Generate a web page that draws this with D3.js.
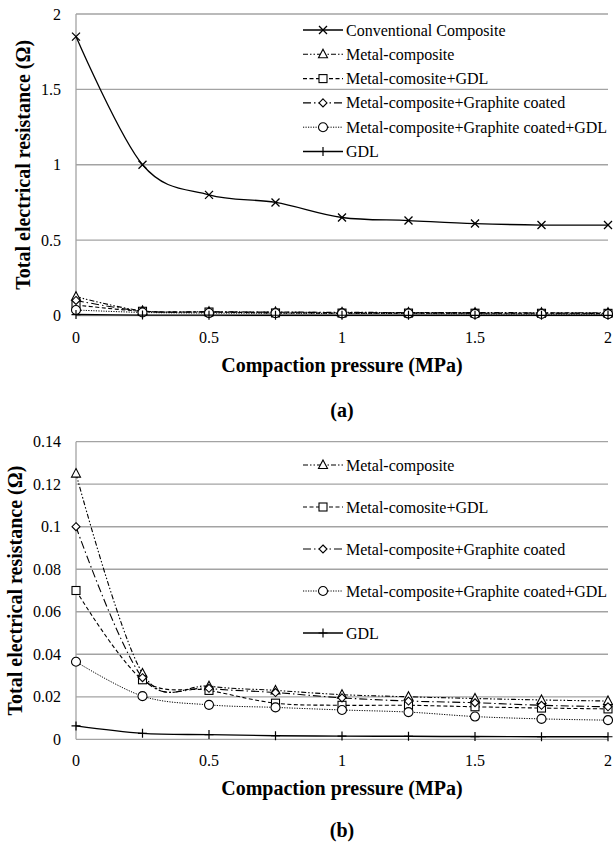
<!DOCTYPE html>
<html lang="en">
<head>
  <meta charset="UTF-8">
  <title>Total electrical resistance vs compaction pressure</title>
  <style>
    body { margin: 0; padding: 0; background: #fff; }
    svg { display: block; }
    text { font-family: 'Liberation Serif', 'Times New Roman', serif; fill: #000; }
    .grid line { stroke: #a3a3a3; stroke-width: 1.3px; }
    .tick-label { font-size: 16px; }
    .axis-title { font-size: 20px; font-weight: bold; }
    .legend text { font-size: 16px; }
    .series { fill: none; stroke: #000; }
  </style>
</head>
<body>
  <svg width="613" height="844"></svg>

  <script src="https://d3js.org/d3.v7.min.js"></script>
  <script>
    // pressure (MPa)
    const pressure = [0, 0.25, 0.5, 0.75, 1, 1.25, 1.5, 1.75, 2];

    // resistance values (ohm) for each series
    const conventional   = [1.85, 1.0, 0.8, 0.75, 0.65, 0.63, 0.61, 0.6, 0.6];
    const metalComposite = [0.125, 0.031, 0.025, 0.023, 0.021, 0.020, 0.0192, 0.0185, 0.018];
    const metalGdl       = [0.07, 0.028, 0.023, 0.017, 0.016, 0.016, 0.0153, 0.0147, 0.0143];
    const coated         = [0.1, 0.029, 0.024, 0.022, 0.0195, 0.018, 0.0172, 0.016, 0.0153];
    const coatedGdl      = [0.0365, 0.0203, 0.0162, 0.015, 0.0138, 0.0128, 0.0107, 0.0096, 0.009];
    const gdl            = [0.0063, 0.0028, 0.0022, 0.0017, 0.0015, 0.0014, 0.0013, 0.0012, 0.0012];

    const xTicks = [0, 0.5, 1, 1.5, 2];
    const yTicksA = [0, 0.5, 1, 1.5, 2];
    const yTicksB = [0, 0.02, 0.04, 0.06, 0.08, 0.1, 0.12, 0.14];

    const seriesNames = [
      "Conventional Composite",
      "Metal-composite",
      "Metal-comosite+GDL",
      "Metal-composite+Graphite coated",
      "Metal-composite+Graphite coated+GDL",
      "GDL"
    ];

    // line / marker style per series
    const styles = {
      "Conventional Composite":              { values: conventional,   dash: null,              width: 1.3, marker: "cross" },
      "Metal-composite":                     { values: metalComposite, dash: "5,2,1.5,2,1.5,2", width: 1.1, marker: "triangle" },
      "Metal-comosite+GDL":                  { values: metalGdl,       dash: "4,2.5",           width: 1.1, marker: "square" },
      "Metal-composite+Graphite coated":     { values: coated,         dash: "8,3,1.5,3",       width: 1.1, marker: "diamond" },
      "Metal-composite+Graphite coated+GDL": { values: coatedGdl,      dash: "1.2,1.3",         width: 1.0, marker: "circle" },
      "GDL":                                 { values: gdl,            dash: null,              width: 1.4, marker: "plus" }
    };

    const svg = d3.select("svg");

    function drawMarker(g, type, x, y) {
      const m = g.append("g").attr("transform", `translate(${x},${y})`);
      const common = s => s.attr("fill", "#fff").attr("stroke", "#000").attr("stroke-width", 1.1);
      if (type === "cross") {
        m.append("path").attr("d", "M-4,-4L4,4M-4,4L4,-4").attr("stroke", "#000").attr("stroke-width", 1.3);
      } else if (type === "plus") {
        m.append("path").attr("d", "M-4.5,0L4.5,0M0,-4.5L0,4.5").attr("stroke", "#000").attr("stroke-width", 1.2);
      } else if (type === "triangle") {
        common(m.append("path").attr("d", "M0,-5L4.5,3.5L-4.5,3.5Z"));
      } else if (type === "square") {
        common(m.append("rect").attr("x", -4).attr("y", -4).attr("width", 8).attr("height", 8));
      } else if (type === "diamond") {
        common(m.append("path").attr("d", "M0,-4L4,0L0,4L-4,0Z"));
      } else if (type === "circle") {
        common(m.append("circle").attr("r", 4.5));
      }
    }

    function drawPanel(opt) {
      const x = d3.scaleLinear().domain([0, 2]).range([76, 608]);
      const y = d3.scaleLinear().domain([0, opt.yMax]).range([opt.bottom, opt.top]);
      const g = svg.append("g");

      // gridlines (y=0 doubles as the x axis)
      g.append("g").attr("class", "grid")
        .selectAll("line").data(opt.yTicks).enter().append("line")
        .attr("x1", x(0)).attr("x2", x(2))
        .attr("y1", d => y(d)).attr("y2", d => y(d));
      g.append("g").attr("class", "grid").append("line")
        .attr("x1", x(0)).attr("x2", x(0))
        .attr("y1", y(0)).attr("y2", y(opt.yMax));

      g.selectAll(".ylab").data(opt.yTicks).enter().append("text")
        .attr("class", "tick-label")
        .attr("x", 61).attr("y", d => y(d) + 5.5)
        .attr("text-anchor", "end")
        .text(d => d3.format("~g")(d));

      g.selectAll(".xlab").data(xTicks).enter().append("text")
        .attr("class", "tick-label")
        .attr("x", d => x(d)).attr("y", y(0) + 27)
        .attr("text-anchor", "middle")
        .text(d => d3.format("~g")(d));

      g.append("text").attr("class", "axis-title")
        .attr("x", 342).attr("y", y(0) + 56)
        .attr("text-anchor", "middle")
        .text("Compaction pressure (MPa)");

      g.append("text").attr("class", "axis-title")
        .attr("transform", `translate(${opt.titleX},${(opt.top + opt.bottom) / 2}) rotate(-90)`)
        .attr("text-anchor", "middle")
        .text("Total electrical resistance (Ω)");

      g.append("text").attr("class", "axis-title")
        .attr("x", 342).attr("y", opt.labelY)
        .attr("text-anchor", "middle")
        .text(opt.label);

      const line = d3.line()
        .x((d, i) => x(pressure[i]))
        .y(d => y(d))
        .curve(d3.curveCardinal.tension(0));

      const lines = g.append("g");
      const marks = g.append("g");
      opt.series.forEach(name => {
        const s = styles[name];
        lines.append("path").attr("class", "series")
          .attr("d", line(s.values))
          .attr("stroke-width", s.width)
          .attr("stroke-dasharray", s.dash);
        s.values.forEach((v, i) => drawMarker(marks, s.marker, x(pressure[i]), y(v)));
      });

      // legend
      const legend = g.append("g").attr("class", "legend");
      opt.series.forEach((name, i) => {
        const s = styles[name];
        const ly = opt.legendY + i * opt.legendStep;
        legend.append("line").attr("class", "series")
          .attr("x1", 303).attr("x2", 343).attr("y1", ly).attr("y2", ly)
          .attr("stroke-width", s.width)
          .attr("stroke-dasharray", s.dash);
        drawMarker(legend, s.marker, 323, ly);
        legend.append("text").attr("x", 346).attr("y", ly + 5.5).text(name);
      });
    }

    drawPanel({
      yMax: 2, top: 14, bottom: 315.5, yTicks: yTicksA,
      series: seriesNames, titleX: 30, label: "(a)", labelY: 417,
      legendY: 30, legendStep: 24.3
    });

    drawPanel({
      yMax: 0.14, top: 441.7, bottom: 739.3, yTicks: yTicksB,
      series: seriesNames.slice(1), titleX: 22, label: "(b)", labelY: 837,
      legendY: 465, legendStep: 42
    });
  </script>
</body>
</html>
